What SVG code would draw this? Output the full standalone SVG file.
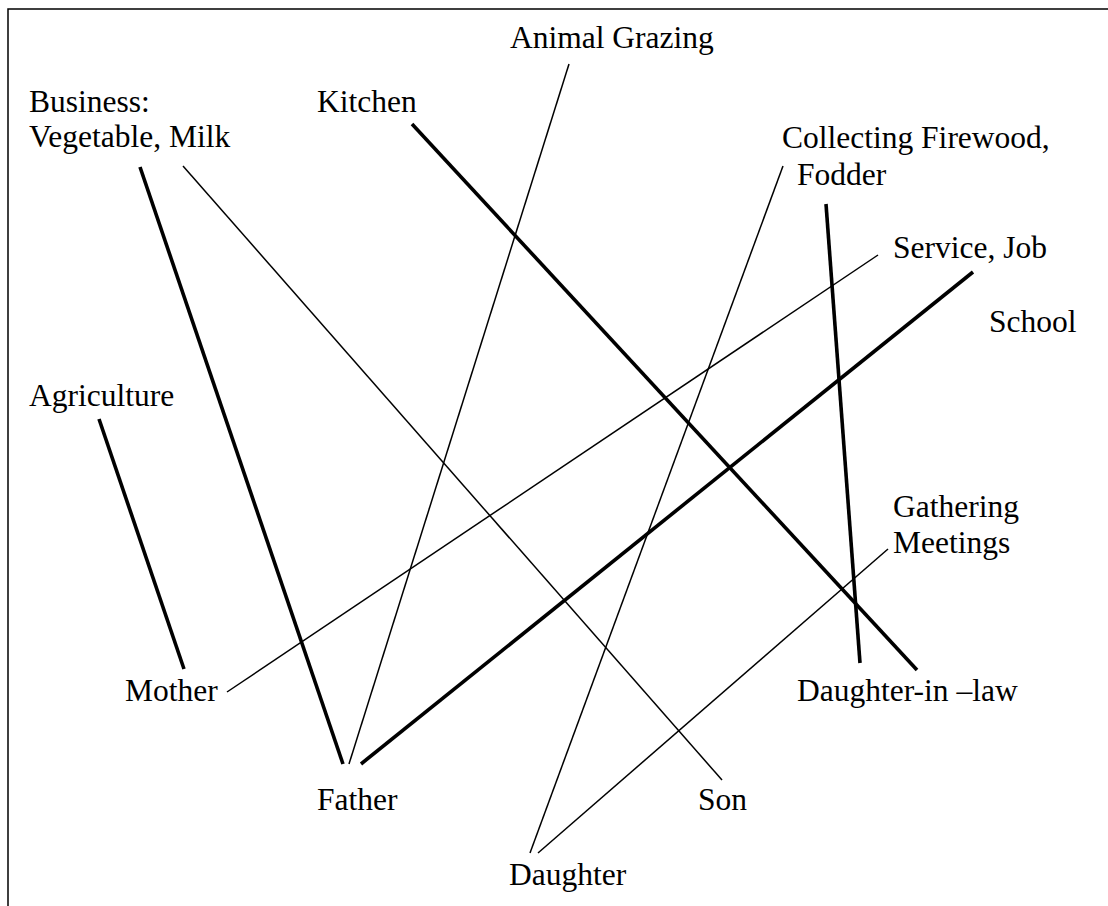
<svg xmlns="http://www.w3.org/2000/svg" width="1108" height="906" viewBox="0 0 1108 906">
<style>
text{font-family:"Liberation Serif","Times New Roman",serif;font-size:31.5px;fill:#000}
.thick{stroke:#000;stroke-width:3.6;fill:none}
.thin{stroke:#000;stroke-width:1.5;fill:none}
</style>
<rect x="8" y="9" width="1200" height="1000" fill="#fff" stroke="#000" stroke-width="1.5"/>
<g id="connectors">
<line class="thick" x1="140" y1="167" x2="343" y2="764"/>
<line class="thin" x1="183" y1="166" x2="722" y2="780"/>
<line class="thick" x1="412" y1="124" x2="917" y2="670"/>
<line class="thin" x1="569" y1="64" x2="349" y2="764"/>
<line class="thin" x1="783" y1="166" x2="530" y2="853"/>
<line class="thick" x1="826" y1="204" x2="860" y2="663"/>
<line class="thin" x1="878" y1="255" x2="227" y2="692"/>
<line class="thick" x1="973" y1="272" x2="361" y2="764"/>
<line class="thick" x1="99" y1="419" x2="184" y2="669"/>
<line class="thin" x1="888" y1="549" x2="538" y2="853"/>
</g>
<g id="animal-grazing"><text x="510" y="48">Animal Grazing</text></g>
<g id="business"><text x="29" y="112">Business:</text><text x="29" y="147">Vegetable, Milk</text></g>
<g id="kitchen"><text x="317" y="112">Kitchen</text></g>
<g id="collecting"><text x="782" y="148">Collecting Firewood,</text><text x="797" y="185">Fodder</text></g>
<g id="service"><text x="893" y="258">Service, Job</text></g>
<g id="school"><text x="989" y="332">School</text></g>
<g id="agriculture"><text x="29" y="406">Agriculture</text></g>
<g id="gathering"><text x="893" y="517">Gathering</text><text x="893" y="553">Meetings</text></g>
<g id="mother"><text x="125" y="701">Mother</text></g>
<g id="daughter-in-law"><text x="797" y="701">Daughter-in –law</text></g>
<g id="father"><text x="317" y="810">Father</text></g>
<g id="son"><text x="698" y="810">Son</text></g>
<g id="daughter"><text x="509" y="885">Daughter</text></g>
</svg>
